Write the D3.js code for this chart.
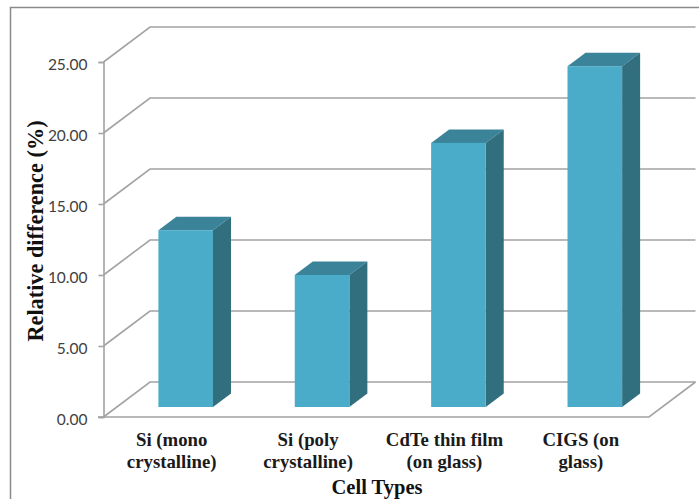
<!DOCTYPE html>
<html><head><meta charset="utf-8">
<script src="https://cdn.jsdelivr.net/npm/d3@7"></script>
<style>html,body{margin:0;padding:0;background:#fff}svg{display:block}</style>
</head><body><svg id="c" width="699" height="499"></svg>
<script>
const categories=[["Si (mono","crystalline)"],["Si (poly","crystalline)"],["CdTe thin film","(on glass)"],["CIGS (on","glass)"]];
const values=[12.45,9.3,18.6,24.0];
const tickValues=[0,5,10,15,20,25];
const yTitle="Relative difference (%)";
const xTitle="Cell Types";

const svg=d3.select("#c");
const grey="#a3a3a3";
const y=d3.scaleLinear().domain([0,25]).range([417,62]);
const x=d3.scaleBand().domain(d3.range(categories.length)).range([103.5,649]);
const wall={dx:46.5,dy:-35};
const barD={off:{dx:14,dy:-10},dx:18,dy:-13.5};
const barW=54.6;

// chart frame
svg.append("path").attr("d","M10.5,499V7.5H699").attr("fill","none").attr("stroke","#8a8a8a").attr("stroke-width",1.5);

// walls
const grid=svg.append("g").attr("fill","none").attr("stroke",grey).attr("stroke-width",1.6);
tickValues.forEach(t=>{
  const p=d3.path();
  p.moveTo(103.5,y(t));
  p.lineTo(103.5+wall.dx,y(t)+wall.dy);
  p.lineTo(x.range()[1]+wall.dx,y(t)+wall.dy);
  grid.append("path").attr("d",p.toString());
});
// floor edge
const fl=d3.path();
fl.moveTo(98,y(0));fl.lineTo(x.range()[1],y(0));fl.lineTo(x.range()[1]+wall.dx,y(0)+wall.dy);
grid.append("path").attr("d",fl.toString());

// value axis
const ay=d3.axisLeft(y).tickValues(tickValues).tickFormat(d3.format(".2f")).tickSize(5).tickPadding(11);
const gy=svg.append("g").attr("transform","translate(103.5,0)").call(ay);
gy.selectAll("path,line").attr("stroke",grey).attr("stroke-width",1.6);
gy.selectAll("text").attr("font-family","Lato").attr("font-size",15.5).attr("fill","#404040").attr("dy","0.46em");

// bars
const bars=svg.append("g");
values.forEach((v,i)=>{
  const l=x(i)+(x.bandwidth()-barW)/2+barD.off.dx, r=l+barW;
  const b=y(0)+barD.off.dy, t=b-(y(0)-y(v));
  const g=bars.append("g");
  g.append("path").attr("fill","#3a8399").attr("d",`M${l},${t}L${l+barD.dx},${t+barD.dy}H${r+barD.dx}L${r},${t}Z`);
  g.append("path").attr("fill","#316e7e").attr("d",`M${r},${t}L${r+barD.dx},${t+barD.dy}V${b+barD.dy}L${r},${b}Z`);
  g.append("rect").attr("x",l).attr("y",t).attr("width",barW).attr("height",b-t).attr("fill","#4aacc8");
});

// category labels
const serif="'Liberation Serif'";
categories.forEach((c,i)=>{
  c.forEach((s,j)=>{
    svg.append("text").attr("x",x(i)+x.bandwidth()/2).attr("y",446+j*21.5)
      .attr("text-anchor","middle").attr("font-family",serif).attr("font-weight","bold")
      .attr("font-size",18.8).attr("fill","#1a1a1a").text(s);
  });
});

svg.append("text").attr("x",377).attr("y",494).attr("text-anchor","middle")
  .attr("font-family",serif).attr("font-weight","bold").attr("font-size",20.5).attr("fill","#111").text(xTitle);
svg.append("text").attr("transform","translate(43,231) rotate(-90)").attr("text-anchor","middle")
  .attr("font-family",serif).attr("font-weight","bold").attr("font-size",22.3).attr("fill","#111").text(yTitle);
</script></body></html>
